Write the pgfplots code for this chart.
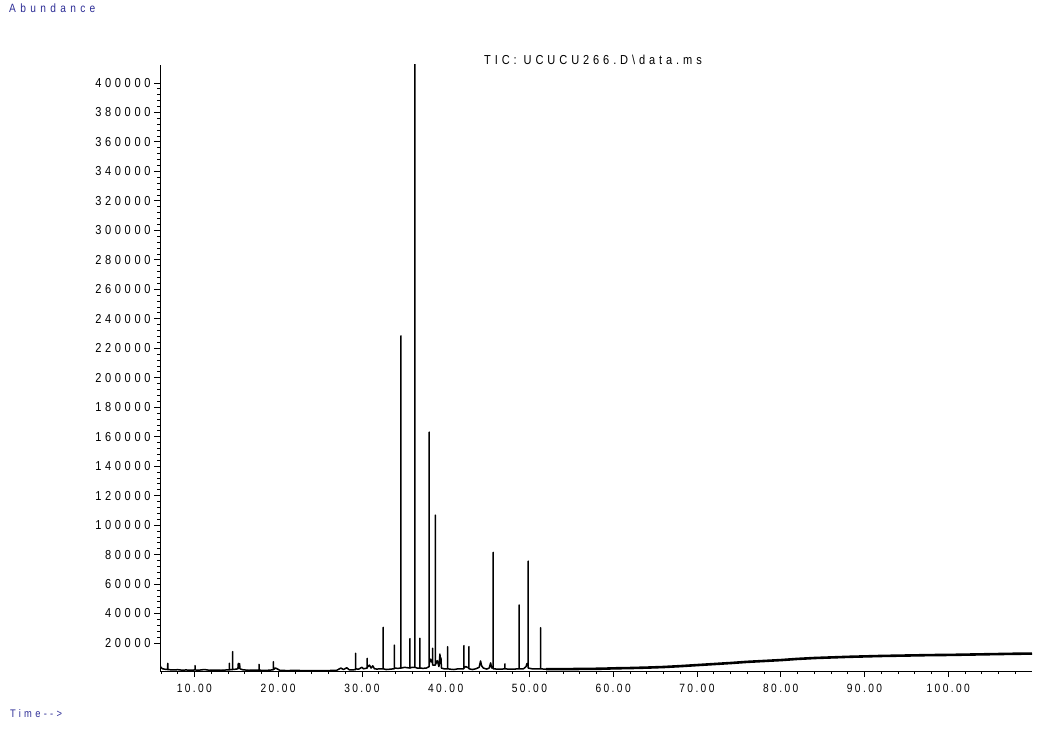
\documentclass[border=0pt]{standalone}
\usepackage{fontspec}
\setmainfont{Liberation Sans}[FakeStretch=0.85]
\usepackage{pgfplots}
\usepackage{pgfplotstable}
\pgfplotsset{compat=1.18}
\definecolor{labblue}{RGB}{45,45,150}

\pgfplotstableread{
t y
5.90 5000
6.00 3500
6.20 2500
6.50 2200
6.80 2000
6.83 6200
6.83 2000
7.20 1800
7.60 1700
8.00 1900
8.50 1600
9.00 1700
9.50 1600
10.08 1700
10.08 4600
10.08 1700
10.60 1600
11.20 2000
11.80 1500
12.50 1600
13.20 1500
13.80 1700
14.18 1800
14.18 6200
14.18 1800
14.58 2000
14.58 14100
14.58 2000
14.90 2200
15.20 2500
15.25 6200
15.30 3000
15.40 6000
15.45 2500
15.80 1800
16.50 1500
17.20 1600
17.72 1600
17.72 5500
17.72 1600
18.20 1400
18.80 1500
19.43 1800
19.43 7300
19.46 2000
19.70 3000
20.20 1500
21.00 1300
22.00 1400
23.00 1300
24.00 1200
25.00 1300
26.00 1300
27.00 1500
27.50 3000
27.80 2000
28.20 3200
28.50 1800
29.00 1800
29.26 2000
29.26 13000
29.26 2500
29.60 2200
30.00 3500
30.20 2500
30.64 3000
30.64 9600
30.64 3500
30.90 5000
31.10 3000
31.30 4500
31.50 2500
31.80 2300
32.20 2500
32.55 2500
32.55 30600
32.55 2500
32.90 2000
33.30 2200
33.87 2500
33.87 18500
33.87 3000
34.30 2800
34.67 3000
34.67 228300
34.67 3000
35.10 3500
35.74 3000
35.74 23000
35.74 3000
36.00 3500
36.34 3500
36.34 430000
36.34 3500
36.60 3000
36.93 3000
36.93 23200
36.93 3000
37.30 2800
37.70 3000
38.04 4000
38.04 163000
38.04 6000
38.20 9000
38.45 6000
38.45 16400
38.45 5000
38.76 5000
38.76 106800
38.76 5000
39.00 8000
39.20 4000
39.32 12500
39.38 6000
39.44 10000
39.50 3000
39.80 2500
40.24 2500
40.24 17500
40.24 2500
40.60 2200
41.00 2000
41.50 2500
42.18 2500
42.18 18200
42.18 3000
42.40 4000
42.78 3000
42.78 17500
42.78 2500
43.20 2000
43.60 2500
44.00 3500
44.17 7800
44.30 4500
44.50 3000
44.90 2300
45.20 3000
45.37 6500
45.50 3000
45.68 3500
45.68 81500
45.68 2500
46.10 2300
46.60 2200
47.08 2500
47.08 5800
47.08 2500
47.60 2200
48.20 2300
48.78 2500
48.78 45800
48.78 2500
49.30 2500
49.60 4000
49.70 6000
49.86 4000
49.86 75600
49.86 3000
50.30 2500
50.80 2400
51.34 2400
51.34 30400
51.34 2400
52.00 2300
53.00 2200
54.00 2300
55.00 2300
}\tic

\pgfplotstableread{
t y
52 2300
55 2300
56 2400
57 2400
58 2500
59 2600
60 2800
62 3000
64 3300
66 3700
68 4300
70 5000
72 5700
74 6400
76 7200
78 7800
80 8400
82 9200
84 9800
86 10200
88 10600
90 10900
92 11200
94 11400
96 11600
98 11800
100 11900
102 12100
104 12300
106 12500
108 12700
110 12800
}\drift

\begin{document}
\begin{tikzpicture}[x=1pt,y=1pt]
\useasboundingbox (0,0) rectangle (1037,729);
\node[anchor=west, text=labblue, font=\fontsize{12}{14}\selectfont\addfontfeatures{LetterSpace=36}, inner sep=0pt] at (9,721) {Abundance};
\node[anchor=west, text=labblue, font=\fontsize{11}{13}\selectfont\addfontfeatures{LetterSpace=30}, inner sep=0pt] at (10,15) {Time-{}-{}>};
\node[anchor=center, font=\fontsize{13}{15}\selectfont\addfontfeatures{LetterSpace=30}, inner sep=0pt] at (593,669) {TIC: UCUCU266.D\textbackslash data.ms};
\begin{axis}[
  at={(160pt,58pt)}, anchor=south west,
  width=872pt, height=606pt, scale only axis,
  xmin=5.9, xmax=110, ymin=1000, ymax=412100,
  axis x line=bottom, axis y line=left,
  axis line style={-, black, line width=1pt},
  xtick={10,20,...,100},
  xticklabels={10.00,20.00,30.00,40.00,50.00,60.00,70.00,80.00,90.00,100.00},
  minor xtick={6,8,12,14,16,18,22,24,26,28,32,34,36,38,42,44,46,48,52,54,56,58,62,64,66,68,72,74,76,78,82,84,86,88,92,94,96,98,102,104,106,108},
  ytick={20000,40000,...,400000},
  yticklabels={20000,40000,60000,80000,100000,120000,140000,160000,180000,200000,220000,240000,260000,280000,300000,320000,340000,360000,380000,400000},
  minor y tick num=4,
  tick align=outside,
  major tick length=6pt, minor tick length=3pt,
  tick style={black, line width=0.6pt},
  yticklabel style={font=\fontsize{13}{15}\selectfont\addfontfeatures{LetterSpace=28}, xshift=0pt},
  xticklabel style={font=\fontsize{12}{14}\selectfont\addfontfeatures{LetterSpace=20}, yshift=-4pt},
  scaled y ticks=false,
  clip=true,
]
\addplot[black, line width=1.5pt, sharp plot, line join=round] table[x=t,y=y] {\tic};
\addplot[black, line width=2.6pt, sharp plot, line join=round] table[x=t,y=y] {\drift};
\end{axis}
\end{tikzpicture}
\end{document}
